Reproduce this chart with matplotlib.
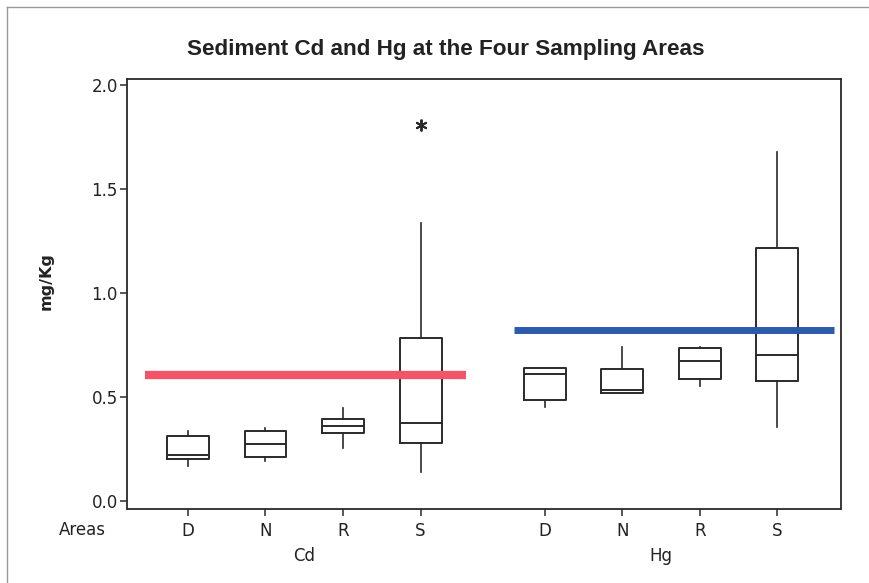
import matplotlib
matplotlib.use("Agg")
import matplotlib.pyplot as plt
from matplotlib.lines import Line2D

# ---------------------------------------------------------------------------
# Data (mg/Kg)
# ---------------------------------------------------------------------------
areas = ["D", "N", "R", "S"]
metals = ["Cd", "Hg"]

cd_whislo = [0.170, 0.191, 0.256, 0.138]
cd_q1 = [0.200, 0.210, 0.325, 0.280]
cd_med = [0.221, 0.274, 0.362, 0.376]
cd_q3 = [0.312, 0.335, 0.393, 0.782]
cd_whishi = [0.338, 0.349, 0.446, 1.336]
cd_fliers = [[], [], [], [1.81]]

hg_whislo = [0.453, 0.519, 0.553, 0.357]
hg_q1 = [0.484, 0.519, 0.585, 0.577]
hg_med = [0.609, 0.535, 0.673, 0.700]
hg_q3 = [0.639, 0.636, 0.737, 1.216]
hg_whishi = [0.639, 0.740, 0.742, 1.678]
hg_fliers = [[], [], [], []]

ref_values = [0.607, 0.822]  # horizontal reference level per metal
ref_colors = ["#f4546a", "#2d5bab"]

# ---------------------------------------------------------------------------
# Layout
# ---------------------------------------------------------------------------
group_start = [1.0, 5.6]
positions = [s + i for s in group_start for i in range(len(areas))]


def make_stats(lo, q1, med, q3, hi, fliers):
    return [
        dict(whislo=a, q1=b, med=c, q3=d, whishi=e, fliers=f)
        for a, b, c, d, e, f in zip(lo, q1, med, q3, hi, fliers)
    ]


stats = make_stats(cd_whislo, cd_q1, cd_med, cd_q3, cd_whishi, cd_fliers)
stats += make_stats(hg_whislo, hg_q1, hg_med, hg_q3, hg_whishi, hg_fliers)

plt.rcParams["font.family"] = "DejaVu Sans"
fig = plt.figure(figsize=(8.7, 5.83), dpi=100)
ax = fig.add_axes([127 / 870, 1 - 509 / 583, 714 / 870, 430 / 583])

edge = "#2a2a2a"
ax.bxp(
    stats,
    positions=positions,
    widths=0.54,
    showcaps=False,
    boxprops=dict(color=edge, linewidth=1.4),
    medianprops=dict(color=edge, linewidth=1.4),
    whiskerprops=dict(color=edge, linewidth=1.2),
    flierprops=dict(marker=(6, 2, 0), markersize=8.5, markeredgewidth=1.4,
                    markeredgecolor=edge, markerfacecolor=edge),
)

# reference lines spanning each group
spans = [(0.447, 4.59), (5.2, 9.33)]
widths = [6.0, 5.0]
for val, col, (x0, x1), lw in zip(ref_values, ref_colors, spans, widths):
    ax.hlines(val, x0, x1, color=col, linewidth=lw, zorder=3)

ax.set_xlim(0.215, 9.42)
ax.set_ylim(-0.0385, 2.029)
ax.set_yticks([0.0, 0.5, 1.0, 1.5, 2.0])
ax.set_yticklabels([f"{v:.1f}" for v in [0.0, 0.5, 1.0, 1.5, 2.0]])
ax.set_xticks(positions)
ax.set_xticklabels(areas * len(metals))

for sp in ax.spines.values():
    sp.set_color(edge)
    sp.set_linewidth(1.3)
ax.tick_params(axis="both", direction="out", length=5, width=1.1,
               color=edge, labelsize=12, labelcolor="#222222")
ax.tick_params(axis="x", pad=4)
ax.tick_params(axis="y", pad=1.5)

# group labels under the area labels
for s, name in zip(group_start, metals):
    ax.text(s + 1.5, -0.11, name, transform=ax.get_xaxis_transform(),
            ha="center", va="center", fontsize=12, color="#222222")

fig.text(82 / 870, 1 - 530 / 583, "Areas", ha="center", va="center",
         fontsize=12, color="#222222")
fig.text(46 / 870, 1 - 281 / 583, "mg/Kg", rotation=90, ha="center",
         va="center", fontsize=11.5, fontweight="bold", color="#222222")
fig.text(446 / 870, 1 - 49 / 583, "Sediment Cd and Hg at the Four Sampling Areas",
         ha="center", va="center", fontsize=16.2, fontweight="bold",
         family="Liberation Sans", color="#222222")

# thin outer frame (top and left edges visible in the reference)
fig.add_artist(Line2D([7 / 870, 1], [1 - 7 / 583, 1 - 7 / 583],
                      transform=fig.transFigure, color="#9a9a9a", lw=1))
fig.add_artist(Line2D([7 / 870, 7 / 870], [0, 1 - 7 / 583],
                      transform=fig.transFigure, color="#9a9a9a", lw=1))

fig.savefig("out.png", dpi=100)
